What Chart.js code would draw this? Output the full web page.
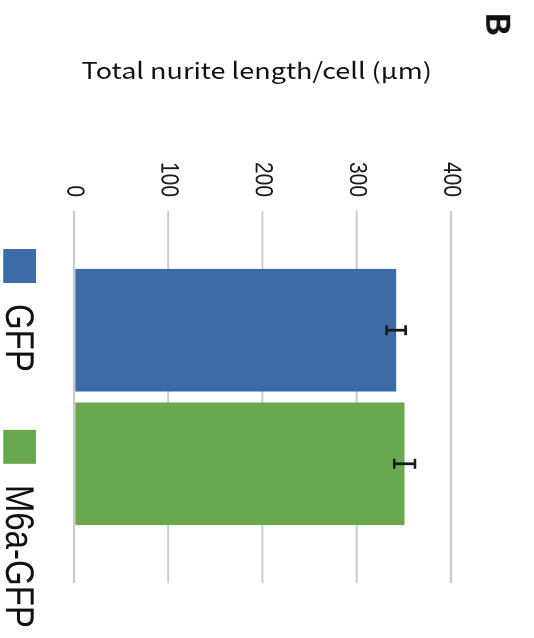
<!DOCTYPE html>
<html>
<head>
<meta charset="utf-8">
<script src="https://cdn.jsdelivr.net/npm/chart.js@4"></script>
<style>
  html, body { margin: 0; padding: 0; background: #fff; width: 534px; height: 638px; overflow: hidden; }
  /* the whole figure is laid out 1.2x wider than tall */
  #sheet { position: absolute; left: 0; top: 0; width: 445px; height: 638px; transform: scaleX(1.2); transform-origin: 0 0; }
  #title { position: absolute; left: 68px; top: 58px; font: 22.5px "Noto Sans CJK JP"; line-height: 1; white-space: nowrap; color: #111; }
  /* the chart panel is turned a quarter turn clockwise */
  #panel { position: absolute; left: 0; top: 0; width: 638px; height: 445px; transform: translate(445px, 0) rotate(90deg); transform-origin: 0 0; }
  #panel canvas { position: absolute; left: 0; top: 0; }
  #tag { position: absolute; left: 12px; top: 15px; font: bold 27px "Noto Sans CJK JP"; line-height: 1; color: #111; transform: scaleX(1.3); transform-origin: 0 0; }
</style>
</head>
<body>
<div id="sheet">
  <div id="title">Total nurite length/cell (μm)</div>
  <div id="panel">
    <canvas id="chart" width="638" height="445"></canvas>
    <div id="tag">B</div>
  </div>
</div>
<script>
// groups, mean neurite length per cell (µm) and its error
const categories = ['GFP', 'M6a-GFP'];
const lengths = [342, 351];
const errors = [10, 11];
const tickValues = [0, 100, 200, 300, 400];
const colors = ['#3b6ca8', '#6aa84f'];

const errorBarPlugin = {
  id: 'errorBars',
  afterDatasetsDraw(chart) {
    const { ctx } = chart;
    const y = chart.scales.y;
    ctx.save();
    ctx.strokeStyle = '#1a1a1a';
    chart.data.datasets.forEach((ds, i) => {
      const meta = chart.getDatasetMeta(i);
      ds.data.forEach((v, j) => {
        const x = meta.data[j].x;
        const hi = y.getPixelForValue(v + ds.errorBar);
        const lo = y.getPixelForValue(v - ds.errorBar);
        ctx.lineWidth = 2.8;
        ctx.beginPath();
        ctx.moveTo(x, hi); ctx.lineTo(x, lo);
        ctx.stroke();
        ctx.lineWidth = 2.2;
        ctx.beginPath();
        ctx.moveTo(x - 5, hi); ctx.lineTo(x + 5, hi);
        ctx.moveTo(x - 5, lo); ctx.lineTo(x + 5, lo);
        ctx.stroke();
      });
    });
    ctx.restore();
  }
};

// legend row drawn under the plot
const legendPlugin = {
  id: 'rowLegend',
  afterDraw(chart, args, opts) {
    const { ctx } = chart;
    ctx.save();
    ctx.font = opts.font;
    ctx.textBaseline = 'alphabetic';
    let u = opts.start;
    chart.data.datasets.forEach(ds => {
      ctx.fillStyle = ds.backgroundColor;
      ctx.fillRect(u, opts.boxTop, opts.boxW, opts.boxH);
      u += opts.boxW + opts.gap;
      ctx.fillStyle = '#111';
      ctx.fillText(ds.label, u, opts.baseline);
      u += ctx.measureText(ds.label).width + opts.spacing;
    });
    ctx.restore();
  }
};

new Chart(document.getElementById('chart'), {
  type: 'bar',
  data: {
    labels: [''],
    datasets: categories.map((name, i) => ({
      label: name,
      data: [lengths[i]],
      errorBar: errors[i],
      backgroundColor: colors[i],
      borderWidth: 0,
      categoryPercentage: 0.718,
      barPercentage: 0.918
    }))
  },
  options: {
    responsive: false,
    animation: false,
    devicePixelRatio: 2,
    layout: { padding: { left: 0, top: 69.4, right: 55, bottom: 61.9 } },
    plugins: {
      legend: { display: false },
      tooltip: { enabled: false },
      rowLegend: {
        font: '33px "Liberation Sans", Arial, sans-serif',
        start: 249, boxW: 34, boxH: 27.3, boxTop: 415, gap: 21, spacing: 58, baseline: 440
      }
    },
    scales: {
      x: { display: false },
      y: {
        min: 0,
        max: 400,
        afterBuildTicks: s => { s.ticks = tickValues.map(v => ({ value: v })); },
        afterFit: s => { s.width = 211; },
        border: { display: false },
        grid: { color: '#c9c9c9', lineWidth: 1.6, drawTicks: false },
        ticks: {
          padding: 14,
          color: '#1a1a1a',
          font: { family: '"Liberation Sans", Arial, sans-serif', size: 21 }
        }
      }
    }
  },
  plugins: [errorBarPlugin, legendPlugin]
});
</script>
</body>
</html>
